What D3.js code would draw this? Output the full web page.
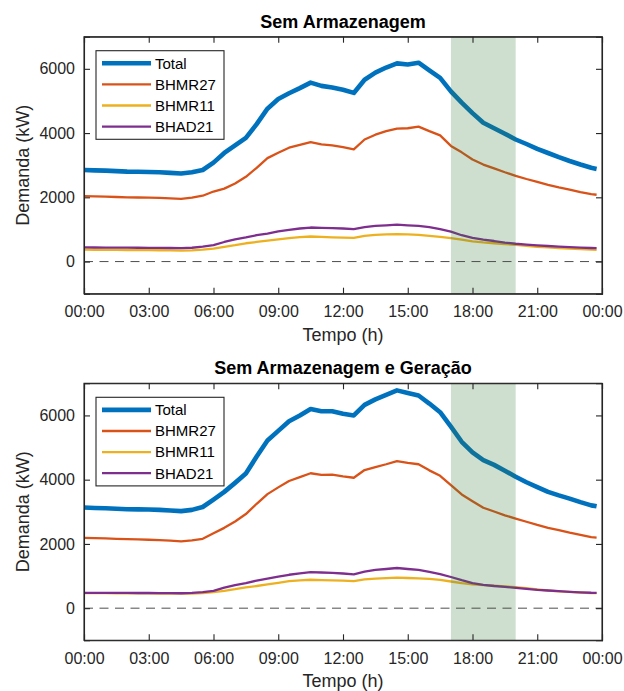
<!DOCTYPE html>
<html>
<head>
<meta charset="utf-8">
<script src="https://cdn.jsdelivr.net/npm/d3@7"></script>
<style>
  body { margin: 0; background: #fff; }
  svg text { font-family: "Liberation Sans", Arial, Helvetica, sans-serif; }
</style>
</head>
<body>
<div id="chart"></div>
<script>
// half-hour samples, last one at 23:45
const hours = d3.range(0, 23.75, 0.5).concat([23.75]);

const seriesNames = ['Total', 'BHMR27', 'BHMR11', 'BHAD21'];
const panelTitles = ['Sem Armazenagem', 'Sem Armazenagem e Geração'];
const xTicks = [0, 3, 6, 9, 12, 15, 18, 21, 24];
const yTicks = [0, 2000, 4000, 6000];
const peakWindow = [17, 20];

// panel 1: Sem Armazenagem
const total1 = [2850, 2840, 2830, 2815, 2800, 2795, 2790, 2780, 2760, 2740, 2780, 2850,
  3080, 3380, 3620, 3850, 4280, 4760, 5060, 5240, 5400, 5570, 5470, 5420,
  5350, 5250, 5660, 5880, 6040, 6170, 6135, 6190, 5950, 5720, 5300, 4950,
  4620, 4320, 4150, 3980, 3800, 3660, 3510, 3380, 3250, 3130, 3020, 2920, 2885];
const bhmr27_1 = [2040, 2030, 2020, 2010, 2000, 1995, 1990, 1985, 1970, 1950, 1990, 2050,
  2180, 2270, 2430, 2640, 2920, 3220, 3390, 3545, 3630, 3720, 3650, 3620,
  3560, 3490, 3800, 3950, 4060, 4140, 4150, 4200, 4060, 3930, 3600, 3400,
  3180, 3020, 2900, 2780, 2670, 2570, 2480, 2390, 2310, 2240, 2160, 2100, 2080];
const bhmr11_1 = [370, 368, 365, 362, 360, 358, 355, 352, 348, 340, 350, 370,
  400, 460, 510, 570, 610, 650, 690, 730, 760, 780, 770, 755,
  745, 740, 800, 830, 845, 855, 845, 830, 800, 770, 730, 680,
  630, 595, 570, 545, 520, 490, 460, 440, 420, 400, 385, 370, 365];
const bhad21_1 = [440, 438, 436, 434, 432, 430, 428, 426, 422, 418, 430, 465,
  510, 610, 690, 750, 820, 870, 940, 990, 1030, 1060, 1050, 1040,
  1030, 1010, 1070, 1110, 1130, 1150, 1130, 1110, 1070, 1010, 935, 820,
  740, 680, 640, 590, 555, 530, 505, 485, 465, 450, 435, 422, 418];

// panel 2: Sem Armazenagem e Geração
const total2 = [3135, 3120, 3110, 3095, 3080, 3075, 3070, 3060, 3040, 3020, 3060, 3150,
  3380, 3620, 3900, 4190, 4720, 5220, 5520, 5820, 6000, 6200, 6130, 6130,
  6050, 6000, 6330, 6500, 6640, 6780, 6700, 6620, 6370, 6100, 5650, 5180,
  4850, 4610, 4460, 4280, 4090, 3920, 3770, 3620, 3510, 3410, 3300, 3200, 3170];
const bhmr27_2 = [2190, 2180, 2170, 2160, 2150, 2140, 2130, 2120, 2100, 2080, 2110, 2160,
  2330, 2500, 2700, 2930, 3250, 3550, 3760, 3960, 4080, 4200, 4150, 4160,
  4100, 4060, 4300, 4390, 4480, 4580, 4520, 4480, 4290, 4120, 3830, 3540,
  3330, 3125, 3010, 2890, 2790, 2690, 2590, 2500, 2430, 2350, 2280, 2210, 2195];
const bhmr11_2 = [470, 468, 466, 464, 462, 460, 458, 456, 453, 450, 455, 470,
  500, 540, 590, 650, 690, 740, 790, 840, 865, 885, 875, 865,
  855, 845, 895, 920, 935, 948, 940, 930, 910, 880, 830, 780,
  740, 720, 700, 680, 656, 620, 585, 550, 525, 505, 485, 470, 467];
const bhad21_2 = [478, 477, 476, 475, 474, 473, 472, 470, 468, 465, 475, 500,
  540, 640, 720, 780, 860, 920, 980, 1040, 1080, 1125, 1110, 1100,
  1080, 1050, 1140, 1190, 1220, 1250, 1220, 1195, 1130, 1060, 970, 870,
  780, 728, 690, 660, 634, 600, 570, 550, 530, 510, 492, 480, 478];

const panels = [
  [total1, bhmr27_1, bhmr11_1, bhad21_1],
  [total2, bhmr27_2, bhmr11_2, bhad21_2]
];

const colors = ['#0072BD', '#D95319', '#EDB120', '#7E2F8E'];
const widths = [4.6, 2.3, 2.3, 2.3];
const axisColor = '#262626';

const W = 624, H = 691;
const margin = {left: 84, right: 22};
const panelTops = [36.7, 383.3];
const panelH = 257;

const svg = d3.select('#chart').append('svg')
    .attr('width', W)
    .attr('height', H);

const x = d3.scaleLinear().domain([0, 24]).range([margin.left, W - margin.right]);
const fmtHour = h => String(h % 24).padStart(2, '0') + ':00';

panels.forEach((series, p) => {
  const top = panelTops[p];
  const y = d3.scaleLinear().domain([-1000, 7000]).range([top + panelH, top]);
  const g = svg.append('g');

  // data lines
  const line = d3.line()
      .x((d, i) => x(hours[i]))
      .y(d => y(d));

  series.forEach((vals, k) => {
    g.append('path')
        .datum(vals)
        .attr('fill', 'none')
        .attr('stroke', colors[k])
        .attr('stroke-width', widths[k])
        .attr('stroke-linejoin', 'round')
        .attr('d', line);
  });

  // peak window shading (on top, translucent)
  g.append('rect')
      .attr('x', x(peakWindow[0]))
      .attr('width', x(peakWindow[1]) - x(peakWindow[0]))
      .attr('y', top)
      .attr('height', panelH)
      .attr('fill', 'rgb(55,123,55)')
      .attr('fill-opacity', 0.24);

  // zero line
  g.append('line')
      .attr('x1', x(0)).attr('x2', x(24))
      .attr('y1', y(0)).attr('y2', y(0))
      .attr('stroke', '#4d4d4d')
      .attr('stroke-width', 1)
      .attr('stroke-dasharray', '9,6.5');

  // axes, ticks inward on all sides
  const xb = g.append('g').attr('transform', `translate(0,${top + panelH})`)
      .call(d3.axisBottom(x).tickValues(xTicks).tickSize(-6).tickPadding(12).tickFormat(fmtHour));
  const xt = g.append('g').attr('transform', `translate(0,${top})`)
      .call(d3.axisTop(x).tickValues(xTicks).tickSize(-6).tickFormat(''));
  const yl = g.append('g').attr('transform', `translate(${x(0)},0)`)
      .call(d3.axisLeft(y).tickValues(yTicks).tickSize(-6).tickPadding(9).tickFormat(d3.format('d')));
  const yr = g.append('g').attr('transform', `translate(${x(24)},0)`)
      .call(d3.axisRight(y).tickValues(yTicks).tickSize(-6).tickFormat(''));

  [xb, xt, yl, yr].forEach(a => {
    a.select('.domain').attr('stroke', axisColor).attr('stroke-width', 1.1);
    a.selectAll('.tick line').attr('stroke', axisColor).attr('stroke-width', 1.1);
    a.selectAll('.tick text')
        .attr('fill', axisColor)
        .attr('font-size', 16)
        .attr('font-family', '"Liberation Sans", Arial, sans-serif');
  });
  // outer box
  g.append('rect')
      .attr('x', x(0)).attr('y', top)
      .attr('width', x(24) - x(0)).attr('height', panelH)
      .attr('fill', 'none')
      .attr('stroke', axisColor)
      .attr('stroke-width', 1.1);

  // title
  g.append('text')
      .attr('x', (x(0) + x(24)) / 2)
      .attr('y', top - 9)
      .attr('text-anchor', 'middle')
      .attr('font-size', 18)
      .attr('font-weight', 'bold')
      .attr('fill', '#000')
      .text(panelTitles[p]);

  // axis labels
  g.append('text')
      .attr('x', (x(0) + x(24)) / 2)
      .attr('y', top + panelH + 47)
      .attr('text-anchor', 'middle')
      .attr('font-size', 18)
      .attr('fill', axisColor)
      .text('Tempo (h)');

  g.append('text')
      .attr('transform', `translate(29,${top + panelH / 2}) rotate(-90)`)
      .attr('text-anchor', 'middle')
      .attr('font-size', 18)
      .attr('fill', axisColor)
      .text('Demanda (kW)');

  // legend
  const lg = g.append('g').attr('transform', `translate(96,${top + 14})`);
  lg.append('rect')
      .attr('width', 128)
      .attr('height', 88.6)
      .attr('fill', '#fff')
      .attr('stroke', axisColor)
      .attr('stroke-width', 1.1);
  seriesNames.forEach((name, k) => {
    const ry = 12.6 + k * 21.1;
    lg.append('line')
        .attr('x1', 6).attr('x2', 55)
        .attr('y1', ry).attr('y2', ry)
        .attr('stroke', colors[k])
        .attr('stroke-width', widths[k]);
    lg.append('text')
        .attr('x', 59)
        .attr('y', ry)
        .attr('dy', '0.36em')
        .attr('font-size', 15)
        .attr('fill', '#000')
        .text(name);
  });
});
</script>
</body>
</html>
